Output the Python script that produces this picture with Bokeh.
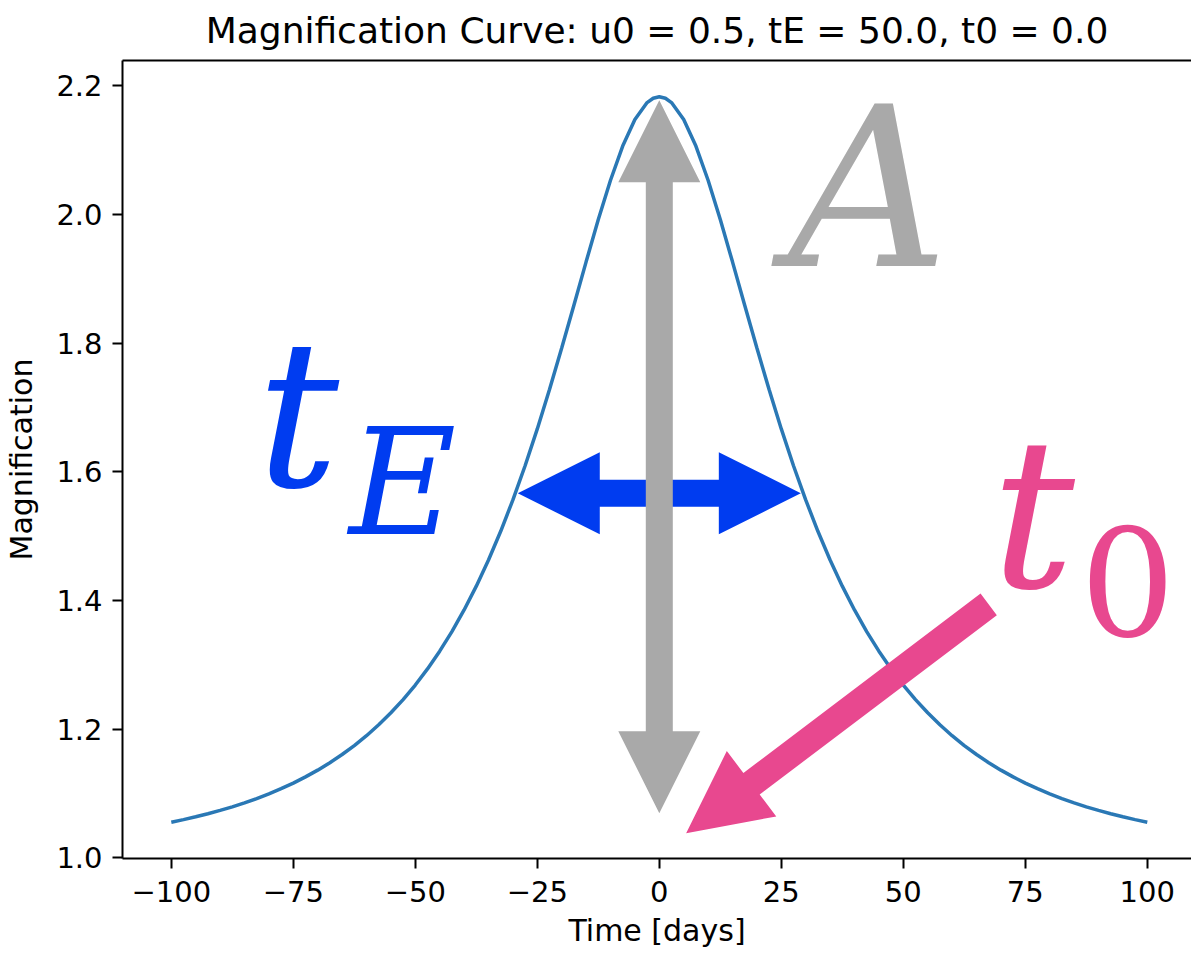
import math

from bokeh.embed import file_html
from bokeh.models import FixedTicker, Label, LinearAxis, Range1d
from bokeh.plotting import figure
from bokeh.resources import INLINE

# Point-lens magnification curve, u0 = 0.5, tE = 50 d, t0 = 0 d
time_days = [
    -100.0, -97.5, -95.0, -92.5, -90.0, -87.5, -85.0, -82.5, -80.0, -77.5,
    -75.0, -72.5, -70.0, -67.5, -65.0, -62.5, -60.0, -57.5, -55.0, -52.5,
    -50.0, -47.5, -45.0, -42.5, -40.0, -37.5, -35.0, -32.5, -30.0, -27.5,
    -25.0, -22.5, -20.0, -17.5, -15.0, -12.5, -10.0, -7.5, -5.0, -2.5,
    -1.25, 0.0, 1.25,
    2.5, 5.0, 7.5, 10.0, 12.5, 15.0, 17.5, 20.0, 22.5, 25.0,
    27.5, 30.0, 32.5, 35.0, 37.5, 40.0, 42.5, 45.0, 47.5, 50.0,
    52.5, 55.0, 57.5, 60.0, 62.5, 65.0, 67.5, 70.0, 72.5, 75.0,
    77.5, 80.0, 82.5, 85.0, 87.5, 90.0, 92.5, 95.0, 97.5, 100.0,
]
magnification = [
    1.0555, 1.0595, 1.0639, 1.0686, 1.0738, 1.0794, 1.0856, 1.0922, 1.0996, 1.1076,
    1.1163, 1.1259, 1.1364, 1.1480, 1.1607, 1.1746, 1.1899, 1.2069, 1.2255, 1.2460,
    1.2687, 1.2937, 1.3213, 1.3517, 1.3853, 1.4223, 1.4630, 1.5076, 1.5564, 1.6094,
    1.6667, 1.7278, 1.7923, 1.8590, 1.9263, 1.9920, 2.0531, 2.1062, 2.1474, 2.1738,
    2.1805, 2.1828, 2.1805,
    2.1738, 2.1474, 2.1062, 2.0531, 1.9920, 1.9263, 1.8590, 1.7923, 1.7278, 1.6667,
    1.6094, 1.5564, 1.5076, 1.4630, 1.4223, 1.3853, 1.3517, 1.3213, 1.2937, 1.2687,
    1.2460, 1.2255, 1.2069, 1.1899, 1.1746, 1.1607, 1.1480, 1.1364, 1.1259, 1.1163,
    1.1076, 1.0996, 1.0922, 1.0856, 1.0794, 1.0738, 1.0686, 1.0639, 1.0595, 1.0555,
]

x_ticks = [-100, -75, -50, -25, 0, 25, 50, 75, 100]
x_tick_labels = ["\u2212100", "\u221275", "\u221250", "\u221225", "0", "25", "50", "75", "100"]
y_ticks = [1.0, 1.2, 1.4, 1.6, 1.8, 2.0, 2.2]
y_tick_labels = ["1.0", "1.2", "1.4", "1.6", "1.8", "2.0", "2.2"]

TITLE = "Magnification Curve: u0 = 0.5, tE = 50.0, t0 = 0.0"

# ---- layout -------------------------------------------------------------
W, H = 1191, 953
LEFT, RIGHT, TOP, BOTTOM = 122, 0, 60, 95
FRAME_W = W - LEFT - RIGHT
FRAME_H = H - TOP - BOTTOM

X_START, X_END = -110.0, -110.0 + FRAME_W / 4.88
Y_START, Y_END = 0.9991, 2.2392

SX = FRAME_W / (X_END - X_START)   # px per day
SY = FRAME_H / (Y_END - Y_START)   # px per unit of magnification

FONT = "DejaVu Sans"
MATH_FONT = "DejaVu Serif"
GREY = "#a9a9a9"
BLUE = "#003cf0"
PINK = "#e8488f"
CURVE = "#2a78b5"

p = figure(
    width=W, height=H,
    x_range=Range1d(X_START, X_END), y_range=Range1d(Y_START, Y_END),
    min_border_left=LEFT, min_border_right=RIGHT,
    min_border_top=TOP, min_border_bottom=BOTTOM,
    output_backend="svg", toolbar_location=None,
    background_fill_color="white", border_fill_color="white",
)
p.outline_line_color = None
p.grid.visible = False

p.title.text = TITLE
p.title.text_font = FONT
p.title.text_font_size = "36px"
p.title.text_font_style = "normal"
p.title.text_color = "black"
p.title.align = "center"
p.title.vertical_align = "top"
p.title.standoff = 16

for ax in (p.xaxis[0], p.yaxis[0]):
    ax.axis_line_width = 2
    ax.axis_line_color = "black"
    ax.major_tick_line_width = 2
    ax.major_tick_line_color = "black"
    ax.major_tick_out = 10
    ax.major_tick_in = 0
    ax.minor_tick_line_color = None
    ax.major_label_text_font = FONT
    ax.major_label_text_font_size = "29px"
    ax.major_label_text_color = "black"
    ax.axis_label_text_font = FONT
    ax.axis_label_text_font_size = "30px"
    ax.axis_label_text_font_style = "normal"
    ax.axis_label_text_color = "black"

p.xaxis.ticker = FixedTicker(ticks=x_ticks)
p.xaxis.major_label_overrides = dict(zip(x_ticks, x_tick_labels))
p.xaxis.axis_label = "Time [days]"
p.xaxis.major_label_standoff = 12
p.xaxis.axis_label_standoff = 8

p.yaxis.ticker = FixedTicker(ticks=y_ticks)
p.yaxis.major_label_overrides = dict(zip(y_ticks, y_tick_labels))
p.yaxis.axis_label = "Magnification"
p.yaxis.major_label_standoff = 10
p.yaxis.axis_label_standoff = 14

# top spine
top_spine = LinearAxis(ticker=FixedTicker(ticks=[]), axis_line_width=2,
                       axis_line_color="black", major_tick_line_color=None,
                       minor_tick_line_color=None)
p.add_layout(top_spine, "above")

# ---- curve --------------------------------------------------------------
p.line(time_days, magnification, line_width=3.5, line_color=CURVE)


# ---- block arrows (shaft and heads sized in screen pixels) ---------------
def arrow_outline(x0, y0, x1, y1, shaft=27.0, head=82.0, double=False):
    X0, Y0, X1, Y1 = x0 * SX, y0 * SY, x1 * SX, y1 * SY
    length = math.hypot(X1 - X0, Y1 - Y0)
    ux, uy = (X1 - X0) / length, (Y1 - Y0) / length
    nx, ny = -uy, ux
    hs, hh = shaft / 2, head / 2

    def off(bx, by, d):
        return (bx + nx * d, by + ny * d)

    b1 = (X1 - ux * head, Y1 - uy * head)
    pts = []
    if double:
        b0 = (X0 + ux * head, Y0 + uy * head)
        pts += [(X0, Y0), off(*b0, -hh), off(*b0, -hs)]
    else:
        pts += [off(X0, Y0, -hs)]
    pts += [off(*b1, -hs), off(*b1, -hh), (X1, Y1), off(*b1, hh), off(*b1, hs)]
    if double:
        pts += [off(*b0, hs), off(*b0, hh)]
    else:
        pts += [off(X0, Y0, hs)]
    return [q[0] / SX for q in pts], [q[1] / SY for q in pts]


# Einstein time: horizontal double arrow across the curve
xs, ys = arrow_outline(-29.0, 1.5667, 29.0, 1.5667, double=True)
p.patch(xs, ys, fill_color=BLUE, line_color=None)

# peak magnification: vertical double arrow at t0
xs, ys = arrow_outline(0.0, 1.0695, 0.0, 2.1775, double=True)
p.patch(xs, ys, fill_color=GREY, line_color=None)

# time of closest approach: arrow pointing down to t0
xs, ys = arrow_outline(67.5, 1.394, 5.5, 1.0384)
p.patch(xs, ys, fill_color=PINK, line_color=None)

# ---- symbols -------------------------------------------------------------
def sym(x, y, text, size, color, style="italic"):
    p.add_layout(Label(x=x, y=y, text=text, text_font=MATH_FONT,
                       text_font_size=size, text_font_style=style,
                       text_color=color, text_align="left",
                       text_baseline="alphabetic"))


sym(26.4, 2.039, "A", "222px", GREY)
sym(-82.5, 1.688, "t", "205px", BLUE)
sym(-63.6, 1.582, "E", "147px", BLUE)
sym(68.0, 1.533, "t", "208px", PINK)
sym(86.2, 1.429, "0", "150px", PINK, style="normal")

open("out.html", "w").write(file_html(p, INLINE))
